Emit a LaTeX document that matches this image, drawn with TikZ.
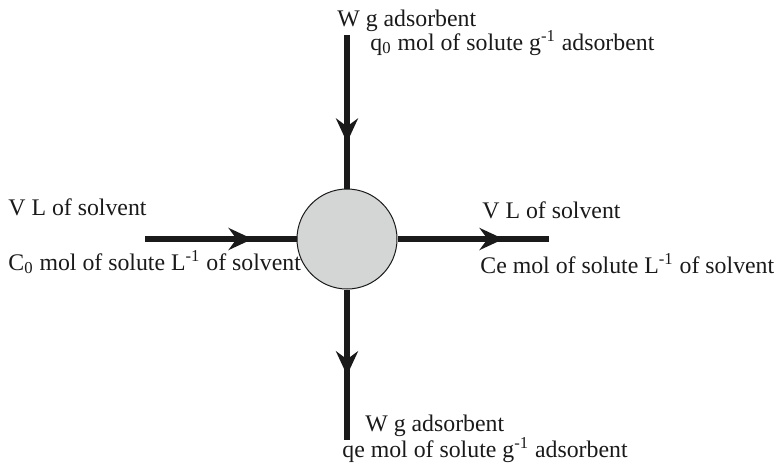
\documentclass[tikz,border=0pt]{standalone}
\usepackage{fontspec}
\setmainfont{Liberation Serif}
\usetikzlibrary{arrows.meta,decorations.markings}
\definecolor{ballgray}{HTML}{D4D6D6}
\definecolor{inkc}{HTML}{1A1A1A}
\tikzset{
  flow/.style={draw=inkc, line width=3pt, line cap=butt, postaction={decorate},
    decoration={markings, mark=at position #1 with {\arrow{Stealth[length=12pt,width=11pt,inset=4pt]}}}},
  lbl/.style={anchor=base west, inner sep=0pt, text=inkc, font=\fontsize{11.9}{14}\selectfont},
  vessel/.style={circle, draw=inkc, line width=0.5pt, fill=ballgray, minimum size=50pt, inner sep=0pt}
}
\begin{document}
\begin{tikzpicture}[x=0.5pt,y=-0.5pt]
\useasboundingbox (0,0) rectangle (781,466);
\node[vessel] (c) at (347,239) {};
\coordinate (lw) at (145,239);
\coordinate (re) at (549,239);
\coordinate (tn) at (347,35);
\coordinate (bs) at (347,440);
\draw[flow=0.71] (lw) -- (c);
\draw[flow=0.70] (c) -- (re);
\draw[flow=0.70] (tn) -- (c);
\draw[flow=0.57] (c) -- (bs);
\node[lbl] (t1) at (337,26) {W g adsorbent};
\node[lbl] (t2) at (370,50) {q\textsubscript{0} mol of solute g\textsuperscript{-1} adsorbent};
\node[lbl] (l1) at (8,215) {V L of solvent};
\node[lbl] (l2) at (8,270) {C\textsubscript{0} mol of solute L\textsuperscript{-1} of solvent};
\node[lbl] (r1) at (482,218) {V L of solvent};
\node[lbl] (r2) at (480,273) {Ce mol of solute L\textsuperscript{-1} of solvent};
\node[lbl] (b1) at (365,431) {W g adsorbent};
\node[lbl] (b2) at (342,457) {qe mol of solute g\textsuperscript{-1} adsorbent};
\end{tikzpicture}
\end{document}
